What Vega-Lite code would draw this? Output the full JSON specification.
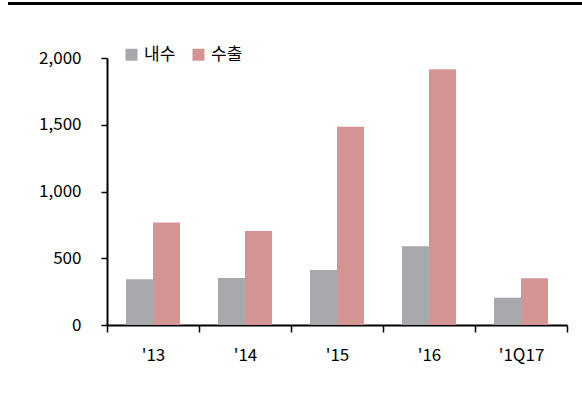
{
  "$schema": "https://vega.github.io/schema/vega-lite/v6.json",
  "width": 574,
  "height": 267,
  "autosize": "none",
  "padding": {"left": 8, "top": 58, "right": 0, "bottom": 69},
  "background": "white",
  "config": {
    "view": {"stroke": null},
    "font": "Noto Sans CJK KR"
  },
  "data": {
    "values": [
      {"year": "'13", "type": "내수", "value": 343},
      {"year": "'13", "type": "수출", "value": 767},
      {"year": "'14", "type": "내수", "value": 352},
      {"year": "'14", "type": "수출", "value": 705},
      {"year": "'15", "type": "내수", "value": 412},
      {"year": "'15", "type": "수출", "value": 1485},
      {"year": "'16", "type": "내수", "value": 590},
      {"year": "'16", "type": "수출", "value": 1915},
      {"year": "'1Q17", "type": "내수", "value": 205},
      {"year": "'1Q17", "type": "수출", "value": 350}
    ]
  },
  "layer": [
    {
      "mark": {"type": "bar"},
      "encoding": {
        "x": {
          "field": "year",
          "type": "nominal",
          "sort": null,
          "scale": {"range": [99, 559], "paddingInner": 0, "paddingOuter": 0},
          "axis": {
            "title": null,
            "labelAngle": 0,
            "labelFontSize": 17,
            "labelColor": "#000",
            "labelPadding": 15,
            "tickBand": "extent",
            "tickSize": 7,
            "tickColor": "#000",
            "tickWidth": 1.5,
            "domainColor": "#000",
            "domainWidth": 2
          }
        },
        "xOffset": {
          "field": "type",
          "type": "nominal",
          "sort": ["내수", "수출"],
          "scale": {"paddingInner": 0, "paddingOuter": 0.704}
        },
        "y": {
          "field": "value",
          "type": "quantitative",
          "scale": {"domain": [0, 2000], "nice": false},
          "axis": {
            "title": null,
            "values": [0, 500, 1000, 1500, 2000],
            "format": ",.0f",
            "grid": false,
            "offset": -99,
            "labelFontSize": 17,
            "labelColor": "#000",
            "labelPadding": 20,
            "tickSize": 6,
            "tickColor": "#000",
            "tickWidth": 1.5,
            "domainColor": "#000",
            "domainWidth": 2
          }
        },
        "color": {
          "field": "type",
          "type": "nominal",
          "sort": ["내수", "수출"],
          "scale": {"domain": ["내수", "수출"], "range": ["#A7A9AC", "#D49494"]},
          "legend": {
            "title": null,
            "orient": "none",
            "direction": "horizontal",
            "legendX": 115,
            "legendY": -12,
            "symbolType": "square",
            "symbolSize": 144,
            "symbolStrokeWidth": 0,
            "labelFontSize": 17,
            "labelColor": "#000",
            "labelOffset": 4,
            "columnPadding": 14
          }
        }
      }
    },
    {
      "mark": {"type": "rule", "color": "#000", "strokeWidth": 3, "clip": false},
      "encoding": {
        "y": {"datum": 2408}
      }
    }
  ]
}
